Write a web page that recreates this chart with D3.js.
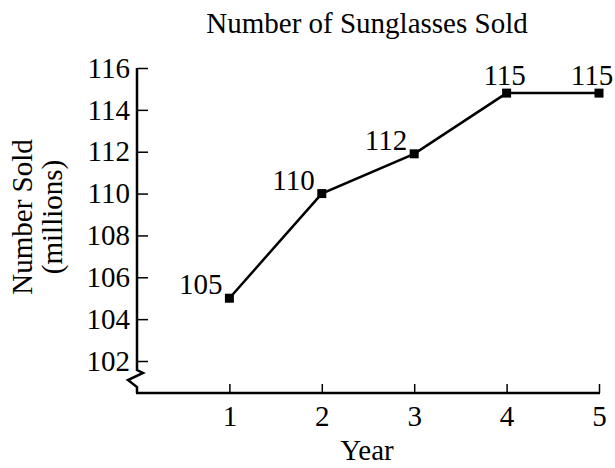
<!DOCTYPE html>
<html>
<head>
<meta charset="utf-8">
<script src="https://cdn.jsdelivr.net/npm/d3@7"></script>
<style>
  body { margin: 0; background: #fff; }
  svg text { font-family: "Liberation Serif", "Times New Roman", serif; fill: #000; }
</style>
</head>
<body>
<div id="chart"></div>
<script>
var years = [1, 2, 3, 4, 5];
var sold = [105, 110, 111.9, 114.8, 114.8];
var soldLabels = ["105", "110", "112", "115", "115"];
var yTicks = [102, 104, 106, 108, 110, 112, 114, 116];

var width = 615, height = 468;
var plotLeft = 137, plotRight = 599, plotTop = 68, plotBottom = 393;

var svg = d3.select("#chart").append("svg")
  .attr("width", width)
  .attr("height", height);

var x = d3.scaleLinear().domain([0, 5]).range([plotLeft, plotRight]);
var y = d3.scaleLinear().domain([102, 116]).range([361, plotTop]);

// title
svg.append("text")
  .attr("x", 367)
  .attr("y", 33)
  .attr("text-anchor", "middle")
  .style("font-size", "29px")
  .text("Number of Sunglasses Sold");

// y axis with the break zigzag at the bottom
var yAxis = d3.axisLeft(y).tickValues(yTicks).tickSize(-11).tickPadding(7).tickFormat(d3.format("d"));
var gy = svg.append("g")
  .attr("transform", "translate(" + plotLeft + ",0)")
  .call(yAxis);
gy.select(".domain").remove();
gy.selectAll(".tick line").attr("stroke-width", 1.5);
gy.selectAll(".tick text")
  .style("font-size", "29px")
  .style("font-family", "Liberation Serif, serif");

svg.append("path")
  .attr("d", d3.line()([[plotLeft, plotTop], [plotLeft, 370], [plotLeft + 6, 373], [plotLeft - 9, 380], [plotLeft, 387], [plotLeft, plotBottom]]))
  .attr("fill", "none")
  .attr("stroke", "#000")
  .attr("stroke-width", 2.5);

// x axis
var xAxis = d3.axisBottom(x).tickValues(years).tickSize(-9).tickPadding(12).tickFormat(d3.format("d"));
var gx = svg.append("g")
  .attr("transform", "translate(0," + plotBottom + ")")
  .call(xAxis);
gx.select(".domain").remove();
gx.selectAll(".tick line").attr("stroke-width", 1.5);
gx.selectAll(".tick text")
  .style("font-size", "29px")
  .style("font-family", "Liberation Serif, serif");

svg.append("line")
  .attr("x1", plotLeft - 1).attr("x2", plotRight + 1)
  .attr("y1", plotBottom).attr("y2", plotBottom)
  .attr("stroke", "#000")
  .attr("stroke-width", 2.5);

// axis titles
svg.append("text")
  .attr("x", 367)
  .attr("y", 460)
  .attr("text-anchor", "middle")
  .style("font-size", "29px")
  .text("Year");

svg.append("text")
  .attr("transform", "translate(32,217) rotate(-90)")
  .attr("text-anchor", "middle")
  .style("font-size", "29px")
  .text("Number Sold");

svg.append("text")
  .attr("transform", "translate(62,217) rotate(-90)")
  .attr("text-anchor", "middle")
  .style("font-size", "29px")
  .text("(millions)");

// the line
var data = years.map(function(d, i) { return {year: d, value: sold[i], label: soldLabels[i]}; });

var line = d3.line()
  .x(function(d) { return x(d.year); })
  .y(function(d) { return y(d.value); });

svg.append("path")
  .datum(data)
  .attr("d", line)
  .attr("fill", "none")
  .attr("stroke", "#000")
  .attr("stroke-width", 2.5);

svg.selectAll("rect.pt")
  .data(data)
  .enter()
  .append("rect")
  .attr("class", "pt")
  .attr("x", function(d) { return x(d.year) - 4.5; })
  .attr("y", function(d) { return y(d.value) - 4.5; })
  .attr("width", 9)
  .attr("height", 9)
  .attr("fill", "#000");

svg.selectAll("text.lbl")
  .data(data)
  .enter()
  .append("text")
  .attr("class", "lbl")
  .attr("x", function(d) {
    if (d.year < 4) return x(d.year) - 7;
    return d.year === 5 ? x(d.year) - 7 : x(d.year) - 2;
  })
  .attr("y", function(d) { return d.year < 4 ? y(d.value) - 4 : y(d.value) - 8; })
  .attr("text-anchor", function(d) { return d.year < 4 ? "end" : "middle"; })
  .style("font-size", "29px")
  .text(function(d) { return d.label; });
</script>
</body>
</html>
